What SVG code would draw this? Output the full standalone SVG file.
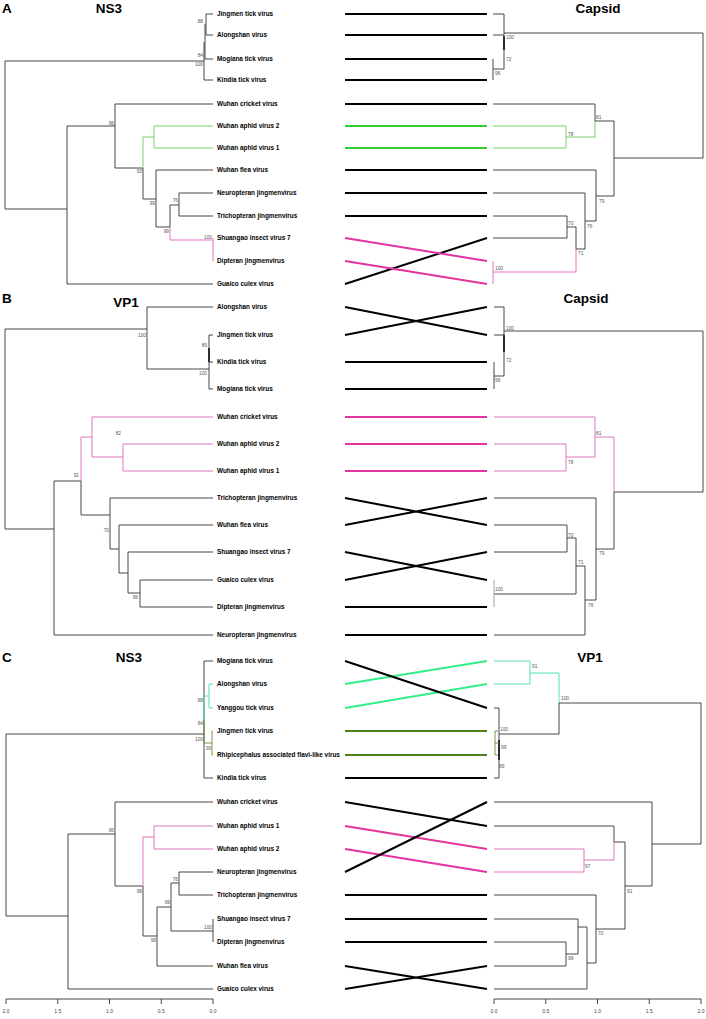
<svg xmlns="http://www.w3.org/2000/svg" width="706" height="1019" viewBox="0 0 706 1019">
<style>
.t{fill:none;stroke:#333;stroke-width:0.9}
.tb{fill:none;stroke:#222;stroke-width:1.8}
.tg{fill:none;stroke:#66cc55;stroke-width:0.9}
.tp{fill:none;stroke:#dd66bb;stroke-width:0.9}
.tm{fill:none;stroke:#44ddaa;stroke-width:0.9}
.to{fill:none;stroke:#66902a;stroke-width:0.9}
.c{fill:none;stroke:#000;stroke-width:2}
.cg{fill:none;stroke:#33cc33;stroke-width:2}
.cp{fill:none;stroke:#e2339e;stroke-width:2}
.cm{fill:none;stroke:#33ee88;stroke-width:2}
.co{fill:none;stroke:#4d7f1c;stroke-width:2}
text{font-family:"Liberation Sans",Arial,sans-serif}
.lab{font-size:6.4px;font-weight:bold;fill:#000}
.bs{font-size:4.8px;fill:#555}
.bse{font-size:4.8px;fill:#555;text-anchor:end}
.ttl{font-size:13.5px;font-weight:bold;fill:#000;text-anchor:middle}
.pl{font-size:13.5px;font-weight:bold;fill:#000}
.ax{font-size:5px;fill:#444;text-anchor:middle}
</style>
<rect width="706" height="1019" fill="#fff"/>

<!-- ================= PANEL A ================= -->
<g id="panelA">
<text class="pl" x="2" y="13">A</text>
<text class="ttl" x="109" y="13">NS3</text>
<text class="ttl" x="598" y="13">Capsid</text>
<g id="A-left-tree">
<path class="t" d="M5 61V209M5 61H204M206 14V35M205 24V59M204 42V80M206 14H213M206 35H213M205 59H213M204 80H213M5 209H67M67 126V284M67 126H115M115 104V168M115 104H213M115 168H143M143 168V199M143 199H156M156 170V227M156 170H213M156 227H170M170 205V227M170 205H179M179 193V216M179 193H213M179 216H213M67 284H213"/>
<path class="tg" d="M143 137V168M143 137H154M154 126V148M154 126H213M154 148H213"/>
<path class="tp" d="M170 227V240M170 240H213M213 238V261"/>
<text class="bse" x="203" y="23">88</text>
<text class="bse" x="203" y="57">84</text>
<text class="bse" x="203" y="66">100</text>
<text class="bse" x="114" y="125">96</text>
<text class="bse" x="142" y="173">93</text>
<text class="bse" x="155" y="205">99</text>
<text class="bse" x="169" y="233">99</text>
<text class="bse" x="178" y="202">76</text>
<text class="bse" x="212" y="239">100</text>
</g>
<g id="A-right-tree">
<path class="t" d="M493 14H504M493 35H504M504 14V69M493 59V80M493 69H504M504 33H703M703 33V158M614 158H703M614 121V196M595 121H614M493 104H595M595 104V121M596 196H614M596 170V221M493 170H596M585 221H596M585 193V249M493 193H585M576 249H585M576 227V249M567 227H576M567 216V238M493 216H567M493 238H567"/>
<path class="tb" d="M504 36V50"/>
<path class="tg" d="M595 121V137M566 137H595M566 126V148M493 126H566M493 148H566"/>
<path class="tp" d="M576 249V272M493 272H576M493 261V284"/>
<text class="bs" x="506" y="39">100</text>
<text class="bs" x="506" y="61">72</text>
<text class="bs" x="495" y="75">96</text>
<text class="bs" x="596" y="119">81</text>
<text class="bs" x="568" y="136">78</text>
<text class="bs" x="599" y="203">79</text>
<text class="bs" x="587" y="228">76</text>
<text class="bs" x="578" y="255">71</text>
<text class="bs" x="568" y="225">70</text>
<text class="bs" x="495" y="270">100</text>
</g>
<g id="A-connectors">
<path class="c" d="M345 14H487M345 35H487M345 59H487M345 80H487M345 104H487M345 170H487M345 193H487M345 216H487M345 284L487 238"/>
<path class="cg" d="M345 126H487M345 148H487"/>
<path class="cp" d="M345 238L487 261M345 261L487 284"/>
</g>
<g id="A-leaf-1"><text class="lab" x="217" y="16.3">Jingmen tick virus</text></g>
<g id="A-leaf-2"><text class="lab" x="217" y="37.3">Alongshan virus</text></g>
<g id="A-leaf-3"><text class="lab" x="217" y="61.3">Mogiana tick virus</text></g>
<g id="A-leaf-4"><text class="lab" x="217" y="82.3">Kindia tick virus</text></g>
<g id="A-leaf-5"><text class="lab" x="217" y="106.3">Wuhan cricket virus</text></g>
<g id="A-leaf-6"><text class="lab" x="217" y="128.3">Wuhan aphid virus 2</text></g>
<g id="A-leaf-7"><text class="lab" x="217" y="150.3">Wuhan aphid virus 1</text></g>
<g id="A-leaf-8"><text class="lab" x="217" y="172.3">Wuhan flea virus</text></g>
<g id="A-leaf-9"><text class="lab" x="217" y="195.3">Neuropteran jingmenvirus</text></g>
<g id="A-leaf-10"><text class="lab" x="217" y="218.3">Trichopteran jingmenvirus</text></g>
<g id="A-leaf-11"><text class="lab" x="217" y="240.3">Shuangao insect virus 7</text></g>
<g id="A-leaf-12"><text class="lab" x="217" y="263.3">Dipteran jingmenvirus</text></g>
<g id="A-leaf-13"><text class="lab" x="217" y="286.3">Guaico culex virus</text></g>
</g>

<!-- ================= PANEL B ================= -->
<g id="panelB">
<text class="pl" x="2" y="303">B</text>
<text class="ttl" x="126" y="307">VP1</text>
<text class="ttl" x="586" y="303">Capsid</text>
<g id="B-left-tree">
<path class="t" d="M5 329V529M5 329H147M147 307V369M147 307H213M147 369H209M209 335V389M209 335H213M209 362H213M209 389H213M5 529H54M54 481V635M54 635H213M54 481H81M81 481V515M81 515H110M110 498V549M110 498H213M110 549H119M119 525V573M119 525H213M119 573H128M128 552V593M128 552H213M128 593H140M140 580V607M140 580H213M140 607H213"/>
<path class="tb" d="M209 348V362"/>
<path class="tp" d="M81 437V481M81 437H92M92 417V457M92 417H213M92 457H123M123 444V471M123 444H213M123 471H213"/>
<text class="bse" x="146" y="337">100</text>
<text class="bse" x="207" y="347">89</text>
<text class="bse" x="207" y="375">100</text>
<text class="bse" x="79" y="477">91</text>
<text class="bse" x="121" y="435">82</text>
<text class="bse" x="109" y="532">70</text>
<text class="bse" x="138" y="599">99</text>
</g>
<g id="B-right-tree">
<path class="t" d="M494 307H504M494 335H504M504 307V376M494 362V389M494 376H504M504 331H703M703 331V492M614 492H703M614 492V549M596 549H614M596 498V600M494 498H596M585 600H596M585 566V635M494 635H585M576 566H585M576 538V594M567 538H576M567 525V552M494 525H567M494 552H567M494 594H576"/>
<path class="tb" d="M504 335V352"/>
<path fill="none" stroke="#999" stroke-width="0.9" d="M494 580V607"/>
<path class="tp" d="M614 437V492M595 437H614M595 417V457M494 417H595M566 457H595M566 444V471M494 444H566M494 471H566"/>
<text class="bs" x="506" y="330">100</text>
<text class="bs" x="506" y="362">72</text>
<text class="bs" x="495" y="382">96</text>
<text class="bs" x="596" y="435">81</text>
<text class="bs" x="568" y="464">78</text>
<text class="bs" x="599" y="555">79</text>
<text class="bs" x="588" y="607">76</text>
<text class="bs" x="578" y="564">71</text>
<text class="bs" x="568" y="537">70</text>
<text class="bs" x="495" y="591">100</text>
</g>
<g id="B-connectors">
<path class="c" d="M345 307L487 335M345 335L487 307M345 362H487M345 389H487M345 498L487 525M345 525L487 498M345 552L487 580M345 580L487 552M345 607H487M345 635H487"/>
<path class="cp" d="M345 417H487M345 444H487M345 471H487"/>
</g>
<g id="B-leaf-1"><text class="lab" x="217" y="309.3">Alongshan virus</text></g>
<g id="B-leaf-2"><text class="lab" x="217" y="337.3">Jingmen tick virus</text></g>
<g id="B-leaf-3"><text class="lab" x="217" y="364.3">Kindia tick virus</text></g>
<g id="B-leaf-4"><text class="lab" x="217" y="391.3">Mogiana tick virus</text></g>
<g id="B-leaf-5"><text class="lab" x="217" y="419.3">Wuhan cricket virus</text></g>
<g id="B-leaf-6"><text class="lab" x="217" y="446.3">Wuhan aphid virus 2</text></g>
<g id="B-leaf-7"><text class="lab" x="217" y="473.3">Wuhan aphid virus 1</text></g>
<g id="B-leaf-8"><text class="lab" x="217" y="500.3">Trichopteran jingmenvirus</text></g>
<g id="B-leaf-9"><text class="lab" x="217" y="527.3">Wuhan flea virus</text></g>
<g id="B-leaf-10"><text class="lab" x="217" y="554.3">Shuangao insect virus 7</text></g>
<g id="B-leaf-11"><text class="lab" x="217" y="582.3">Guaico culex virus</text></g>
<g id="B-leaf-12"><text class="lab" x="217" y="609.3">Dipteran jingmenvirus</text></g>
<g id="B-leaf-13"><text class="lab" x="217" y="637.3">Neuropteran jingmenvirus</text></g>
</g>

<!-- ================= PANEL C ================= -->
<g id="panelC">
<text class="pl" x="2" y="662">C</text>
<text class="ttl" x="129" y="662">NS3</text>
<text class="ttl" x="590" y="662">VP1</text>
<g id="C-left-tree">
<path class="t" d="M6 734V916M6 734H204M204 661V778M204 661H213M204 778H213M6 916H68M68 834V989M68 989H213M68 834H115M115 802V886M115 802H213M115 886H143M143 886V936M143 936H157M157 907V966M157 966H213M157 907H171M171 883V931M171 883H179M179 872V895M179 872H213M179 895H213M171 931H213M213 919V942"/>
<path class="tm" d="M204 697V720M204 696H209M209 684V708M209 684H213M209 708H213"/>
<path class="to" d="M204 720V743M204 743H212M212 731V755M212 731H213M212 755H213"/>
<path class="tp" d="M143 837V886M143 837H154M154 826V849M154 826H213M154 849H213"/>
<text class="bse" x="203" y="702">88</text>
<text class="bse" x="203" y="725">84</text>
<text class="bse" x="203" y="741">100</text>
<text class="bs" x="206" y="750">90</text>
<text class="bse" x="114" y="832">96</text>
<text class="bse" x="142" y="893">98</text>
<text class="bse" x="156" y="942">99</text>
<text class="bse" x="170" y="904">99</text>
<text class="bse" x="178" y="881">76</text>
<text class="bse" x="212" y="929">100</text>
</g>
<g id="C-right-tree">
<path class="tm" d="M494 661H530M494 684H530M530 661V684M530 673H559M559 673V703"/>
<path class="t" d="M559 703V734M559 703H701M499 734H559M499 708V778M494 708H499M494 778H499M701 703V844M652 844H701M652 802V886M494 802H652M625 886H652M625 842V929M614 842H625M614 826V842M494 826H614M596 929H625M596 895V963M494 895H596M587 963H596M587 927V989M494 989H587M578 927H587M578 919V954M494 919H578M566 954H578M566 942V966M494 942H566M494 966H566"/>
<path class="tb" d="M499 740V760"/>
<path class="to" d="M495 731V755M495 731H498M495 755H498M495 743H499"/>
<path class="tp" d="M614 842V860M584 860H614M584 849V872M494 849H584M494 872H584"/>
<text class="bs" x="532" y="668">91</text>
<text class="bs" x="561" y="700">100</text>
<text class="bs" x="500" y="731">100</text>
<text class="bs" x="501" y="749">99</text>
<text class="bs" x="499" y="768">89</text>
<text class="bs" x="627" y="893">91</text>
<text class="bs" x="585" y="868">97</text>
<text class="bs" x="598" y="935">70</text>
<text class="bs" x="568" y="960">99</text>
</g>
<g id="C-connectors">
<path class="cm" d="M345 684L487 661M345 708L487 684"/>
<path class="co" d="M345 731H487M345 755H487"/>
<path class="cp" d="M345 826L487 849M345 849L487 872"/>
<path class="c" d="M345 661L487 708M345 778H487M345 802L487 826M345 872L487 802M345 895H487M345 919H487M345 942H487M345 966L487 989M345 989L487 966"/>
</g>
<g id="C-leaf-1"><text class="lab" x="217" y="663.3">Mogiana tick virus</text></g>
<g id="C-leaf-2"><text class="lab" x="217" y="686.3">Alongshan virus</text></g>
<g id="C-leaf-3"><text class="lab" x="217" y="710.3">Yanggou tick virus</text></g>
<g id="C-leaf-4"><text class="lab" x="217" y="733.3">Jingmen tick virus</text></g>
<g id="C-leaf-5"><text class="lab" x="217" y="757.3">Rhipicephalus associated flavi-like virus</text></g>
<g id="C-leaf-6"><text class="lab" x="217" y="780.3">Kindia tick virus</text></g>
<g id="C-leaf-7"><text class="lab" x="217" y="804.3">Wuhan cricket virus</text></g>
<g id="C-leaf-8"><text class="lab" x="217" y="828.3">Wuhan aphid virus 1</text></g>
<g id="C-leaf-9"><text class="lab" x="217" y="851.3">Wuhan aphid virus 2</text></g>
<g id="C-leaf-10"><text class="lab" x="217" y="874.3">Neuropteran jingmenvirus</text></g>
<g id="C-leaf-11"><text class="lab" x="217" y="897.3">Trichopteran jingmenvirus</text></g>
<g id="C-leaf-12"><text class="lab" x="217" y="921.3">Shuangao insect virus 7</text></g>
<g id="C-leaf-13"><text class="lab" x="217" y="944.3">Dipteran jingmenvirus</text></g>
<g id="C-leaf-14"><text class="lab" x="217" y="968.3">Wuhan flea virus</text></g>
<g id="C-leaf-15"><text class="lab" x="217" y="991.3">Guaico culex virus</text></g>
</g>

<!-- ================= AXES ================= -->
<g id="axis-left">
<path class="t" d="M6 999H213M6 999V1004M57.75 999V1004M109.5 999V1004M161.25 999V1004M213 999V1004"/>
<text class="ax" x="6" y="1013">2.0</text>
<text class="ax" x="57.75" y="1013">1.5</text>
<text class="ax" x="109.5" y="1013">1.0</text>
<text class="ax" x="161.25" y="1013">0.5</text>
<text class="ax" x="213" y="1013">0.0</text>
</g>
<g id="axis-right">
<path class="t" d="M494 999H701M494 999V1004M545.75 999V1004M597.5 999V1004M649.25 999V1004M701 999V1004"/>
<text class="ax" x="494" y="1013">0.0</text>
<text class="ax" x="545.75" y="1013">0.5</text>
<text class="ax" x="597.5" y="1013">1.0</text>
<text class="ax" x="649.25" y="1013">1.5</text>
<text class="ax" x="701" y="1013">2.0</text>
</g>
</svg>
